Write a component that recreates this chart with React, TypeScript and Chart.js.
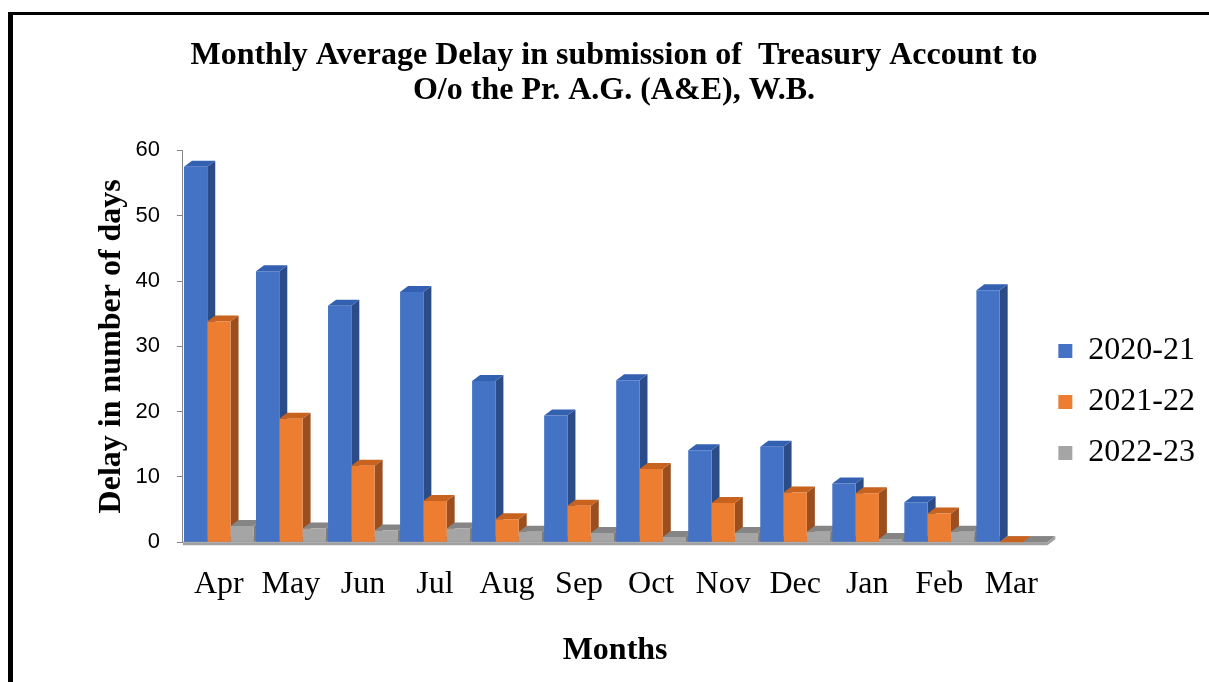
import React, { useEffect, useRef } from 'react';
import { Chart, registerables } from 'chart.js';

Chart.register(...registerables);

const months = ['Apr', 'May', 'Jun', 'Jul', 'Aug', 'Sep', 'Oct', 'Nov', 'Dec', 'Jan', 'Feb', 'Mar'];
const series2020_21 = [57.5, 41.5, 36.2, 38.3, 24.7, 19.4, 24.8, 14.1, 14.6, 9.0, 6.1, 38.6];
const series2021_22 = [33.8, 18.9, 11.7, 6.3, 3.5, 5.6, 11.2, 6.0, 7.6, 7.5, 4.4, 0];
const series2022_23 = [2.5, 2.1, 1.8, 2.1, 1.6, 1.4, 0.8, 1.4, 1.6, 0.5, 1.6, 0];
const seriesLabels = ['2020-21', '2021-22', '2022-23'];
const yTicks = [0, 10, 20, 30, 40, 50, 60];
const titleLines = ['Monthly Average Delay in submission of  Treasury Account to', 'O/o the Pr. A.G. (A&E), W.B.'];
const xTitle = 'Months';
const yTitle = 'Delay in number of days';

const frontColors = ['#4472C4', '#ED7D31', '#A5A5A5'];
const sideColors = ['#2C4C87', '#9B4E1E', '#7B7B7B'];
const topColors = ['#3360B0', '#C8621F', '#858585'];

const SERIF = '"Liberation Serif", "Times New Roman", serif';
const SANS = '"Liberation Sans", Arial, sans-serif';

const DX = 8;
const DY = 6;
const LEGEND_SHIFT_X = -8;
const LEGEND_SHIFT_Y = 61;

const legendShift = {
  id: 'legendShift',
  afterLayout(chart: any) {
    const lg = chart.legend;
    if (!lg) return;
    lg.left += LEGEND_SHIFT_X;
    lg.right += LEGEND_SHIFT_X;
    lg.top += LEGEND_SHIFT_Y;
    lg.bottom += LEGEND_SHIFT_Y;
  },
};

const depth3d = {
  id: 'depth3d',
  beforeDatasetsDraw(chart: any) {
    const ctx = chart.ctx as CanvasRenderingContext2D;
    const { left, right, bottom } = chart.chartArea;
    ctx.save();
    // floor
    ctx.fillStyle = '#8C8C8C';
    ctx.beginPath();
    ctx.moveTo(left, bottom);
    ctx.lineTo(right, bottom);
    ctx.lineTo(right + DX, bottom - DY);
    ctx.lineTo(left + DX, bottom - DY);
    ctx.closePath();
    ctx.fill();
    ctx.fillStyle = '#A0A0A0';
    ctx.beginPath();
    ctx.moveTo(left, bottom);
    ctx.lineTo(right, bottom);
    ctx.lineTo(right + DX, bottom - DY);
    ctx.lineTo(right + DX, bottom - DY + 3);
    ctx.lineTo(right, bottom + 3);
    ctx.lineTo(left, bottom + 3);
    ctx.closePath();
    ctx.fill();
    chart.data.datasets.forEach((_ds: any, i: number) => {
      const meta = chart.getDatasetMeta(i);
      meta.data.forEach((bar: any) => {
        const { x, y, base, width } = bar.getProps(['x', 'y', 'base', 'width'], true);
        const l = x - width / 2;
        const r = x + width / 2;
        ctx.fillStyle = sideColors[i];
        ctx.beginPath();
        ctx.moveTo(r, y);
        ctx.lineTo(r + DX, y - DY);
        ctx.lineTo(r + DX, base - DY);
        ctx.lineTo(r, base);
        ctx.closePath();
        ctx.fill();
        ctx.fillStyle = topColors[i];
        ctx.beginPath();
        ctx.moveTo(l, y);
        ctx.lineTo(l + DX, y - DY);
        ctx.lineTo(r + DX, y - DY);
        ctx.lineTo(r, y);
        ctx.closePath();
        ctx.fill();
      });
    });
    ctx.restore();
  },
};

export default function App() {
  const ref = useRef<HTMLCanvasElement>(null);
  useEffect(() => {
    const seriesData = [series2020_21, series2021_22, series2022_23];
    const chart = new Chart(ref.current as HTMLCanvasElement, {
      type: 'bar',
      data: {
        labels: months,
        datasets: seriesData.map((d, i) => ({
          label: seriesLabels[i],
          data: d,
          backgroundColor: frontColors[i],
          borderWidth: 0,
          categoryPercentage: 0.97,
          barPercentage: 1,
        })),
      },
      options: {
        responsive: false,
        animation: false,
        layout: { padding: { left: 15, right: -4, top: 0, bottom: 0 } },
        plugins: {
          title: {
            display: true,
            text: titleLines,
            color: '#000',
            font: { family: SERIF, size: 32, weight: 'bold', lineHeight: 1.1 },
            padding: { top: 38, bottom: 42 },
          },
          legend: {
            position: 'right',
            labels: {
              color: '#000',
              font: { family: SERIF, size: 32 },
              boxWidth: 14,
              boxHeight: 14,
              padding: 19,
            },
          },
          tooltip: { enabled: false },
        },
        scales: {
          x: {
            grid: { display: false, drawTicks: false },
            border: { display: false },
            ticks: { color: '#000', font: { family: SERIF, size: 32 }, padding: 23 },
            title: {
              display: true,
              text: xTitle,
              color: '#000',
              font: { family: SERIF, size: 32, weight: 'bold', lineHeight: 1.2 },
              padding: { top: 5, bottom: 12 },
            },
          },
          y: {
            min: 0,
            max: 60,
            afterBuildTicks: (axis: any) => {
              axis.ticks = yTicks.map((v) => ({ value: v }));
            },
            ticks: { color: '#000', font: { family: SANS, size: 22 }, padding: 17 },
            grid: { drawOnChartArea: false, tickLength: 6, color: '#868686' },
            border: { color: '#868686' },
            title: {
              display: true,
              text: yTitle,
              color: '#000',
              font: { family: SERIF, size: 32, weight: 'bold', lineHeight: 1.2 },
              padding: { top: 78, bottom: -13 },
            },
          },
        },
      } as any,
      plugins: [depth3d, legendShift],
    });
    return () => chart.destroy();
  }, []);

  return (
    <>
      <div style={{ position: 'fixed', left: 0, top: 0, width: 1209, height: 682, background: '#fff' }}>
        <canvas ref={ref} width={1209} height={682} style={{ display: 'block' }} />
      </div>
      <div
        style={{
          position: 'fixed',
          left: 8,
          top: 12,
          right: -20,
          bottom: -20,
          borderLeft: '5px solid #000',
          borderTop: '3px solid #000',
          pointerEvents: 'none',
        }}
      />
    </>
  );
}
